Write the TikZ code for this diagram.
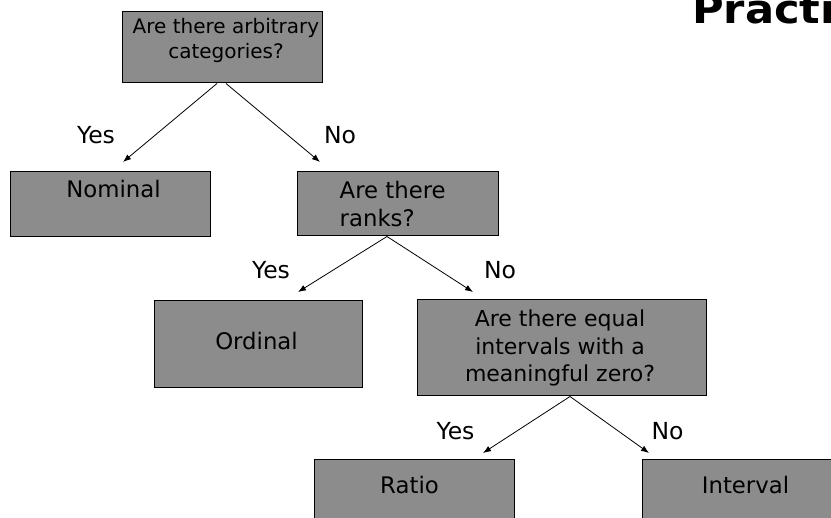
\documentclass[tikz,border=0pt]{standalone}
\usepackage{fontspec}
\setmainfont{DejaVu Sans}
\newfontfamily\titlefont{DejaVu Sans}[FakeStretch=1.08]
\usetikzlibrary{arrows.meta}
\definecolor{boxgray}{RGB}{140,140,140}

\begin{document}
\begin{tikzpicture}[x=1pt, y=-1pt,
	box/.style={rectangle, draw=black, fill=boxgray, line width=1pt, inner sep=0pt},
	boxtext/.style={align=center, inner sep=0pt, font=\fontsize{22.8}{27.5}\selectfont},
	answer/.style={inner sep=0pt, font=\fontsize{23.5}{26}\selectfont},
	arr/.style={-{Latex[length=8pt,width=6pt]}, line width=0.8pt}]
	\useasboundingbox (0, 0) rectangle (831, 518);
	\clip (0, 0) rectangle (831, 518);

	\node[anchor=base west, inner sep=0pt, font=\titlefont\bfseries\fontsize{40}{44}\selectfont] (title) at (692, 24) {Practi};

	\node[box, minimum width=200pt, minimum height=71pt, label={[boxtext, font=\fontsize{20}{25}\selectfont, xshift=4pt, yshift=7pt]center:{Are there arbitrary\\categories?}}] (arbitrary) at (222, 47.5) {};
	\node[box, minimum width=200pt, minimum height=65pt, label={[boxtext, xshift=3.5pt, yshift=15.5pt]center:{Nominal}}] (nominal) at (110, 204.5) {};
	\node[box, minimum width=201pt, minimum height=64pt, label={[boxtext, align=left, anchor=west, xshift=43pt]west:{Are there\\ranks?}}] (ranks) at (397.5, 204) {};
	\node[box, minimum width=208pt, minimum height=87pt, label={[boxtext, xshift=-1.5pt, yshift=3.5pt]center:{Ordinal}}] (ordinal) at (258, 344.5) {};
	\node[box, minimum width=289pt, minimum height=96pt, label={[boxtext, font=\fontsize{22}{27.5}\selectfont, xshift=-1.5pt]center:{Are there equal\\intervals with a\\meaningful zero?}}] (equal) at (561.5, 348) {};
	\node[box, minimum width=200pt, minimum height=80pt, label={[boxtext, xshift=-4.5pt, yshift=15pt]center:{Ratio}}] (ratio) at (414, 500) {};
	\node[box, minimum width=207pt, minimum height=80pt, label={[boxtext, yshift=15pt]center:{Interval}}] (interval) at (745.5, 500) {};

	\coordinate (nominal-tip) at (123, 162);
	\coordinate (ranks-tip) at (320, 162);
	\coordinate (ordinal-tip) at (298, 292);
	\coordinate (equal-tip) at (473, 292);
	\coordinate (ratio-tip) at (483, 453);
	\coordinate (interval-tip) at (649, 453);

	\draw[arr] ([xshift=-5pt]arbitrary.south) -- (nominal-tip);
	\draw[arr] ([xshift=4pt]arbitrary.south) -- (ranks-tip);
	\draw[arr] ([xshift=-10.5pt]ranks.south) -- (ordinal-tip);
	\draw[arr] ([xshift=-10.5pt]ranks.south) -- (equal-tip);
	\draw[arr] ([xshift=8.5pt]equal.south) -- (ratio-tip);
	\draw[arr] ([xshift=8.5pt]equal.south) -- (interval-tip);

	\node[answer] (yes-1) at (96, 135) {Yes};
	\node[answer] (no-1) at (340, 135) {No};
	\node[answer] (yes-2) at (271, 270) {Yes};
	\node[answer] (no-2) at (500, 270) {No};
	\node[answer] (yes-3) at (455.5, 431) {Yes};
	\node[answer] (no-3) at (667.5, 431) {No};
\end{tikzpicture}
\end{document}
